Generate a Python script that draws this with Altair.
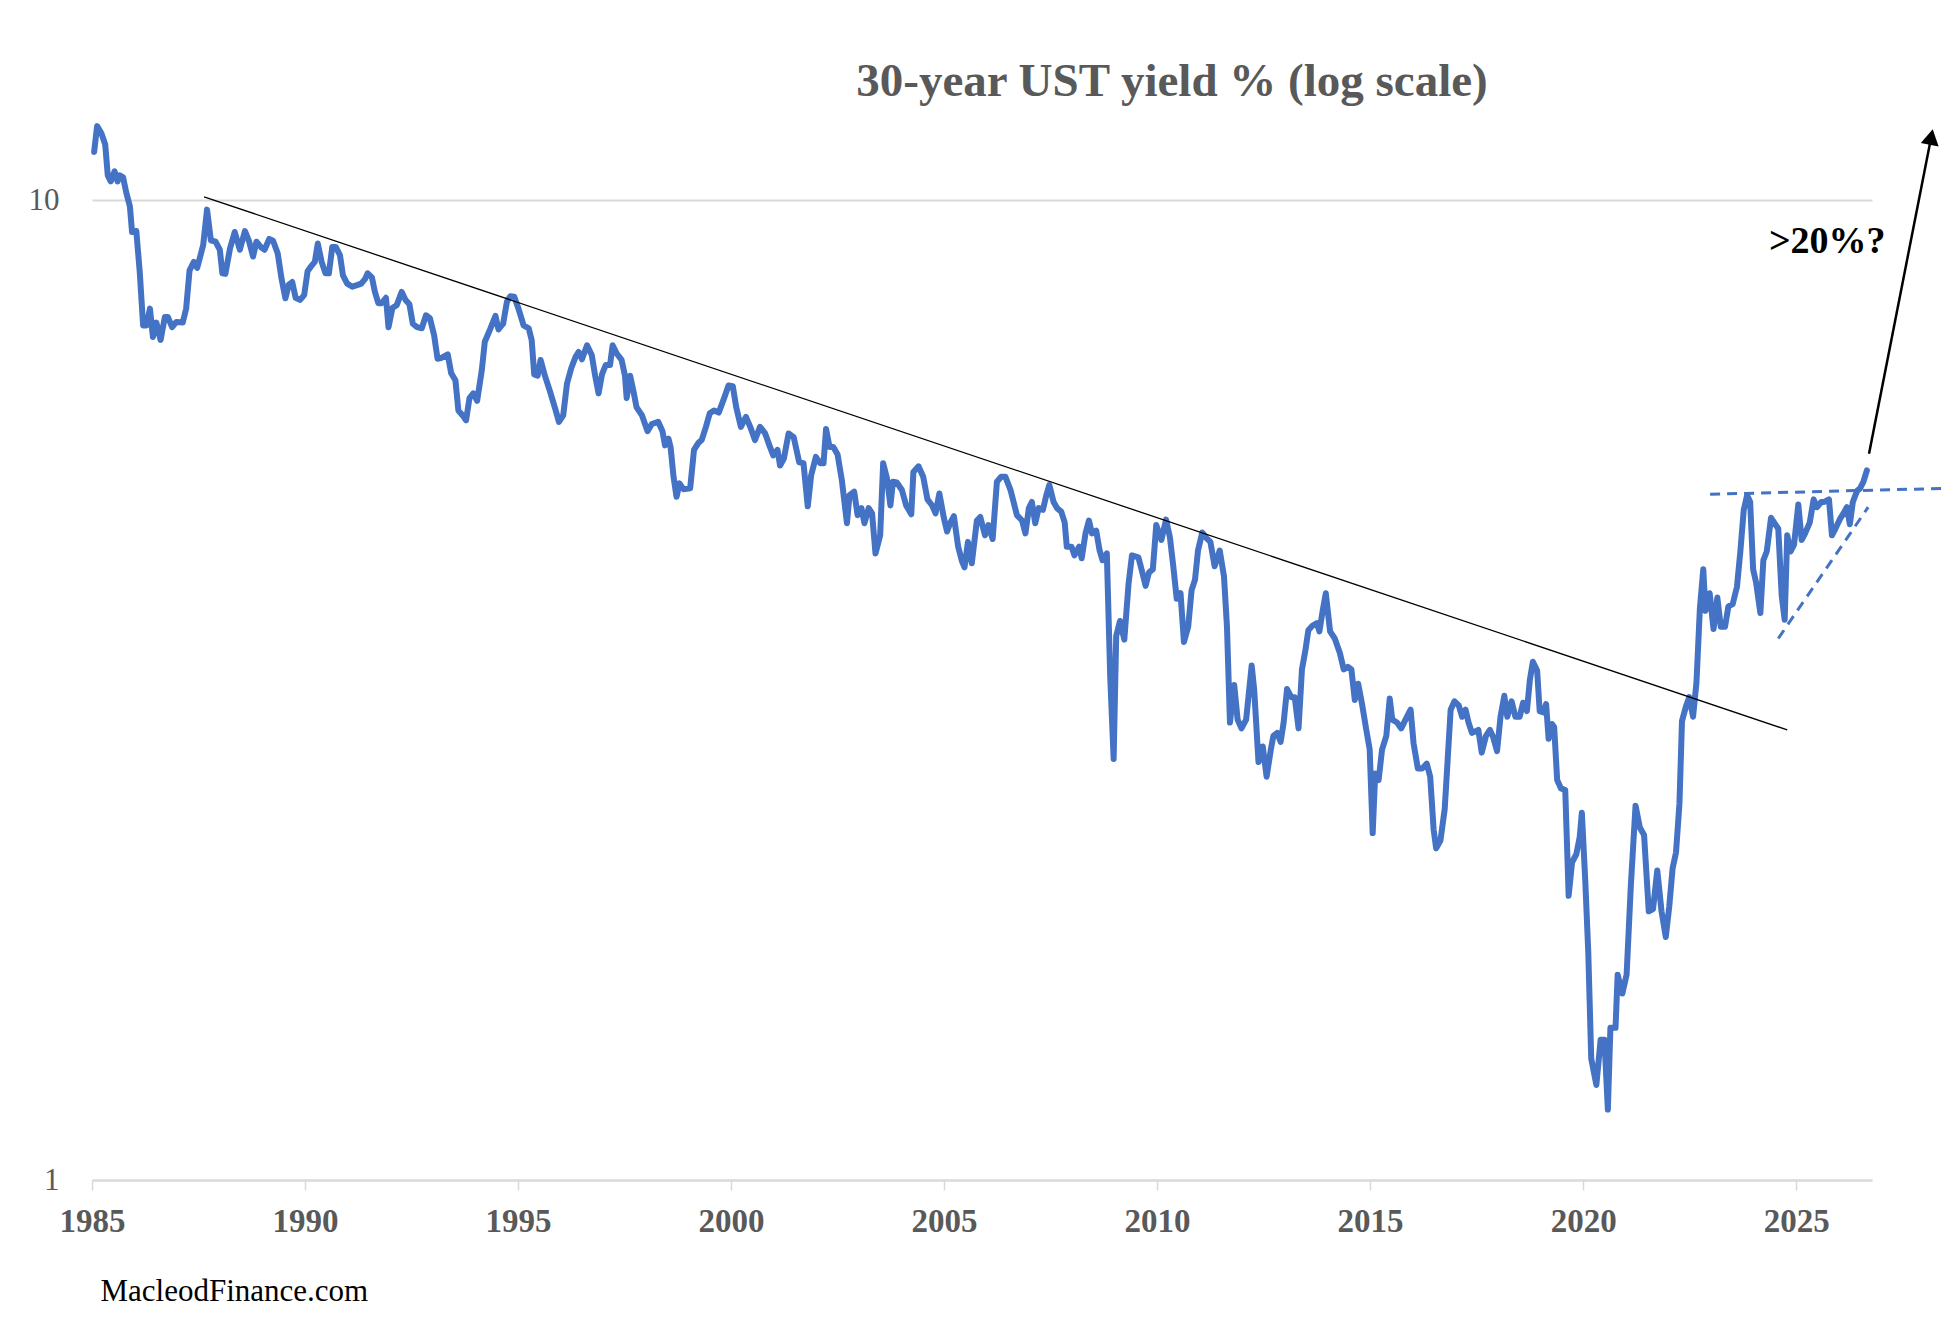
import altair as alt
import pandas as pd

# ---- data (decimal year on the axis, yield %) ----
years = [
    1985.05, 1985.12, 1985.22, 1985.31, 1985.37, 1985.44, 1985.53, 1985.60, 1985.65, 1985.73,
    1985.80, 1985.89, 1985.94, 1986.04, 1986.12, 1986.20, 1986.28, 1986.36, 1986.43, 1986.51,
    1986.61, 1986.71, 1986.78, 1986.88, 1986.98, 1987.13, 1987.21, 1987.29, 1987.39, 1987.47,
    1987.61, 1987.70, 1987.79, 1987.90, 1988.00, 1988.06, 1988.13, 1988.24, 1988.35, 1988.47,
    1988.59, 1988.69, 1988.78, 1988.86, 1988.98, 1989.05, 1989.16, 1989.25, 1989.36, 1989.45,
    1989.54, 1989.62, 1989.70, 1989.78, 1989.88, 1989.98, 1990.06, 1990.16, 1990.23, 1990.30,
    1990.39, 1990.48, 1990.56, 1990.64, 1990.72, 1990.82, 1990.89, 1990.99, 1991.11, 1991.22,
    1991.32, 1991.41, 1991.47, 1991.57, 1991.64, 1991.72, 1991.80, 1991.90, 1991.96, 1992.05,
    1992.15, 1992.27, 1992.36, 1992.45, 1992.53, 1992.63, 1992.74, 1992.84, 1992.93, 1993.03,
    1993.11, 1993.19, 1993.35, 1993.43, 1993.53, 1993.60, 1993.70, 1993.78, 1993.86, 1993.95,
    1994.04, 1994.15, 1994.22, 1994.32, 1994.47, 1994.54, 1994.65, 1994.74, 1994.82, 1994.91,
    1995.01, 1995.13, 1995.25, 1995.32, 1995.38, 1995.46, 1995.53, 1995.63, 1995.75, 1995.87,
    1995.96, 1996.06, 1996.15, 1996.25, 1996.35, 1996.42, 1996.50, 1996.62, 1996.73, 1996.81,
    1996.89, 1996.97, 1997.06, 1997.16, 1997.22, 1997.32, 1997.43, 1997.51, 1997.55, 1997.63,
    1997.71, 1997.78, 1997.91, 1998.04, 1998.14, 1998.29, 1998.39, 1998.45, 1998.53, 1998.58,
    1998.65, 1998.72, 1998.79, 1998.88, 1999.04, 1999.13, 1999.23, 1999.31, 1999.41, 1999.50,
    1999.60, 1999.71, 1999.82, 1999.94, 2000.04, 2000.12, 2000.23, 2000.35, 2000.45, 2000.56,
    2000.68, 2000.80, 2000.90, 2000.99, 2001.09, 2001.15, 2001.24, 2001.35, 2001.47, 2001.60,
    2001.70, 2001.80, 2001.88, 2001.99, 2002.09, 2002.17, 2002.23, 2002.31, 2002.40, 2002.50,
    2002.60, 2002.72, 2002.78, 2002.89, 2002.97, 2003.06, 2003.13, 2003.23, 2003.31, 2003.39,
    2003.50, 2003.57, 2003.66, 2003.74, 2003.80, 2003.89, 2004.01, 2004.11, 2004.23, 2004.28,
    2004.40, 2004.51, 2004.61, 2004.72, 2004.80, 2004.89, 2004.99, 2005.07, 2005.15, 2005.23,
    2005.33, 2005.42, 2005.48, 2005.56, 2005.65, 2005.77, 2005.85, 2005.96, 2006.04, 2006.14,
    2006.24, 2006.34, 2006.44, 2006.56, 2006.71, 2006.83, 2006.91, 2006.99, 2007.06, 2007.14,
    2007.22, 2007.32, 2007.40, 2007.47, 2007.57, 2007.65, 2007.75, 2007.83, 2007.88, 2007.99,
    2008.06, 2008.17, 2008.23, 2008.32, 2008.40, 2008.47, 2008.57, 2008.65, 2008.72, 2008.82,
    2008.90, 2008.98, 2009.04, 2009.13, 2009.23, 2009.33, 2009.41, 2009.56, 2009.64, 2009.73,
    2009.81, 2009.90, 2009.98, 2010.10, 2010.21, 2010.30, 2010.38, 2010.46, 2010.55, 2010.63,
    2010.73, 2010.81, 2010.89, 2010.96, 2011.06, 2011.16, 2011.25, 2011.35, 2011.47, 2011.57,
    2011.64, 2011.71, 2011.81, 2011.89, 2011.98, 2012.09, 2012.22, 2012.28, 2012.38, 2012.48,
    2012.57, 2012.67, 2012.73, 2012.82, 2012.90, 2012.97, 2013.05, 2013.15, 2013.23, 2013.32,
    2013.40, 2013.48, 2013.55, 2013.65, 2013.75, 2013.81, 2013.89, 2013.96, 2014.06, 2014.17,
    2014.29, 2014.38, 2014.48, 2014.56, 2014.64, 2014.72, 2014.81, 2014.91, 2014.99, 2015.06,
    2015.12, 2015.20, 2015.28, 2015.38, 2015.46, 2015.52, 2015.63, 2015.73, 2015.83, 2015.95,
    2016.02, 2016.12, 2016.22, 2016.33, 2016.41, 2016.49, 2016.55, 2016.65, 2016.75, 2016.81,
    2016.89, 2016.98, 2017.08, 2017.16, 2017.24, 2017.31, 2017.39, 2017.47, 2017.54, 2017.62,
    2017.72, 2017.81, 2017.89, 2017.98, 2018.06, 2018.15, 2018.22, 2018.32, 2018.41, 2018.51,
    2018.59, 2018.68, 2018.75, 2018.82, 2018.92, 2018.98, 2019.07, 2019.13, 2019.19, 2019.27,
    2019.32, 2019.39, 2019.48, 2019.58, 2019.66, 2019.74, 2019.84, 2019.92, 2019.97, 2020.05,
    2020.12, 2020.19, 2020.31, 2020.41, 2020.50, 2020.58, 2020.64, 2020.76, 2020.81, 2020.92,
    2021.02, 2021.12, 2021.23, 2021.33, 2021.43, 2021.54, 2021.64, 2021.74, 2021.84, 2021.94,
    2022.02, 2022.10, 2022.18, 2022.26, 2022.32, 2022.41, 2022.49, 2022.58, 2022.66, 2022.74,
    2022.82, 2022.87, 2022.97, 2023.06, 2023.15, 2023.23, 2023.33, 2023.41, 2023.51, 2023.61,
    2023.69, 2023.77, 2023.85, 2023.92, 2023.99, 2024.06, 2024.16, 2024.23, 2024.31, 2024.41,
    2024.48, 2024.58, 2024.66, 2024.73, 2024.79, 2024.87, 2024.95, 2025.05, 2025.13, 2025.21,
    2025.32, 2025.41, 2025.49, 2025.59, 2025.66, 2025.77, 2025.84, 2025.92, 2026.02, 2026.11,
    2026.19, 2026.26, 2026.33, 2026.43, 2026.50, 2026.58, 2026.66,
]
yields = [
    11.20, 11.90, 11.70, 11.40, 10.60, 10.45, 10.70, 10.45, 10.60, 10.55,
    10.20, 9.85, 9.28, 9.30, 8.45, 7.45, 7.45, 7.75, 7.25, 7.50,
    7.20, 7.60, 7.60, 7.42, 7.51, 7.50, 7.75, 8.48, 8.65, 8.53,
    9.00, 9.78, 9.10, 9.07, 8.90, 8.42, 8.41, 8.93, 9.28, 8.90,
    9.30, 9.07, 8.76, 9.07, 8.94, 8.90, 9.13, 9.09, 8.82, 8.31,
    7.94, 8.20, 8.25, 7.95, 7.91, 8.00, 8.46, 8.58, 8.65, 9.03,
    8.65, 8.42, 8.42, 8.96, 8.96, 8.79, 8.38, 8.22, 8.16, 8.19,
    8.22, 8.31, 8.42, 8.34, 8.06, 7.85, 7.85, 7.95, 7.42, 7.76,
    7.81, 8.06, 7.91, 7.83, 7.48, 7.42, 7.40, 7.63, 7.58, 7.28,
    6.89, 6.90, 6.96, 6.66, 6.55, 6.10, 6.03, 5.96, 6.28, 6.35,
    6.24, 6.71, 7.17, 7.34, 7.62, 7.38, 7.48, 7.88, 7.98, 7.97,
    7.75, 7.45, 7.40, 7.20, 6.64, 6.62, 6.87, 6.62, 6.38, 6.13,
    5.94, 6.03, 6.50, 6.74, 6.92, 7.00, 6.88, 7.11, 6.95, 6.62,
    6.35, 6.64, 6.79, 6.79, 7.11, 6.97, 6.87, 6.62, 6.28, 6.62,
    6.38, 6.15, 6.03, 5.81, 5.91, 5.94, 5.81, 5.62, 5.71, 5.60,
    5.22, 4.98, 5.14, 5.07, 5.08, 5.56, 5.65, 5.69, 5.87, 6.06,
    6.10, 6.07, 6.25, 6.47, 6.46, 6.15, 5.87, 6.01, 5.87, 5.69,
    5.87, 5.78, 5.62, 5.49, 5.56, 5.36, 5.45, 5.78, 5.73, 5.40,
    5.39, 4.87, 5.24, 5.47, 5.39, 5.39, 5.84, 5.60, 5.60, 5.50,
    5.18, 4.68, 5.00, 5.04, 4.77, 4.85, 4.68, 4.85, 4.79, 4.36,
    4.55, 5.39, 5.20, 4.88, 5.16, 5.15, 5.06, 4.88, 4.78, 5.28,
    5.35, 5.22, 4.95, 4.88, 4.79, 5.02, 4.75, 4.59, 4.69, 4.76,
    4.43, 4.28, 4.22, 4.48, 4.26, 4.71, 4.75, 4.55, 4.66, 4.51,
    5.16, 5.22, 5.22, 5.06, 4.77, 4.71, 4.57, 4.85, 4.92, 4.68,
    4.85, 4.83, 5.00, 5.12, 4.92, 4.85, 4.81, 4.69, 4.43, 4.43,
    4.34, 4.43, 4.31, 4.57, 4.71, 4.57, 4.60, 4.39, 4.29, 4.36,
    3.26, 2.69, 3.59, 3.72, 3.56, 4.06, 4.34, 4.32, 4.19, 4.04,
    4.17, 4.20, 4.66, 4.50, 4.72, 4.53, 4.23, 3.92, 3.97, 3.54,
    3.67, 4.00, 4.10, 4.39, 4.58, 4.52, 4.48, 4.23, 4.39, 4.13,
    3.67, 2.93, 3.20, 2.95, 2.89, 2.95, 3.35, 3.16, 2.67, 2.77,
    2.58, 2.75, 2.84, 2.86, 2.80, 2.93, 3.17, 3.11, 3.11, 2.89,
    3.32, 3.47, 3.64, 3.68, 3.70, 3.63, 3.82, 3.97, 3.63, 3.57,
    3.45, 3.32, 3.34, 3.32, 3.09, 3.21, 3.06, 2.88, 2.75, 2.26,
    2.60, 2.56, 2.75, 2.84, 3.10, 2.95, 2.93, 2.89, 2.95, 3.02,
    2.79, 2.63, 2.63, 2.66, 2.58, 2.28, 2.18, 2.22, 2.39, 2.64,
    3.02, 3.08, 3.05, 2.97, 3.02, 2.93, 2.86, 2.87, 2.88, 2.73,
    2.84, 2.88, 2.83, 2.74, 2.97, 3.12, 2.97, 3.08, 2.97, 2.97,
    3.07, 3.01, 3.24, 3.38, 3.31, 3.01, 3.00, 3.06, 2.82, 2.92,
    2.90, 2.56, 2.51, 2.50, 1.95, 2.11, 2.15, 2.24, 2.37, 2.02,
    1.71, 1.33, 1.25, 1.39, 1.39, 1.18, 1.43, 1.43, 1.62, 1.55,
    1.62, 2.00, 2.41, 2.29, 2.25, 1.88, 1.89, 2.07, 1.88, 1.77,
    1.90, 2.08, 2.16, 2.42, 2.94, 3.04, 3.11, 2.97, 3.22, 3.83,
    4.20, 3.81, 3.97, 3.65, 3.93, 3.67, 3.67, 3.85, 3.87, 4.03,
    4.38, 4.83, 5.00, 4.92, 4.20, 4.07, 3.79, 4.29, 4.38, 4.74,
    4.69, 4.62, 3.95, 3.73, 4.55, 4.38, 4.45, 4.89, 4.50, 4.57,
    4.69, 4.95, 4.86, 4.92, 4.92, 4.95, 4.55, 4.62, 4.72, 4.79,
    4.86, 4.67, 4.92, 5.05, 5.08, 5.16, 5.30,
]

tick_years = [1985, 1990, 1995, 2000, 2005, 2010, 2015, 2020, 2025]
y_ticks = [1, 10]

# annotation lines (data units)
trend_x = [1987.63, 2024.79]
trend_y = [10.08, 2.88]
flat_x = [2022.98, 2028.49]
flat_y = [5.01, 5.08]
rise_x = [2024.58, 2026.69]
rise_y = [3.57, 4.86]
arrow_x = [2026.71, 2028.17]
arrow_y = [5.51, 11.60]
head_x = [2028.17]
head_y = [11.60]
label_x = [2025.73]
label_y = [8.83]
label_text = [">20%?"]

TITLE = "30-year UST yield % (log scale)"
SOURCE = "MacleodFinance.com"
FONT = "Liberation Serif"
BLUE = "#4472C4"
GREY = "#595959"
LIGHT = "#d9d9d9"

xscale = alt.Scale(domain=[1985, 2026.78], nice=False, zero=False)
yscale = alt.Scale(type="log", domain=[1, 12.36], nice=False)

xaxis = alt.Axis(
    values=tick_years, format="d", grid=False,
    labelFont=FONT, labelFontSize=33, labelFontWeight="bold", labelColor=GREY,
    labelPadding=15, labelFlush=False, labelOverlap=False,
    tickColor=LIGHT, tickSize=10, tickWidth=1.5,
    domainColor=LIGHT, domainWidth=2,
    title=SOURCE, titleFont=FONT, titleFontSize=31, titleFontWeight="normal",
    titleColor="black", titleAnchor="start", titleAlign="left",
    titleX=8, titleY=120, titleBaseline="alphabetic",
)
yaxis = alt.Axis(
    values=y_ticks, format="d", grid=True, gridColor=LIGHT, gridWidth=2,
    ticks=False, domain=False,
    labelFont=FONT, labelFontSize=31, labelColor=GREY, labelPadding=33,
    title=None,
)

X = alt.X("x:Q", scale=xscale, axis=xaxis)
Y = alt.Y("y:Q", scale=yscale, axis=yaxis)

series = pd.DataFrame({"x": years, "y": yields, "o": list(range(len(years)))})
trend = pd.DataFrame({"x": trend_x, "y": trend_y})
flat = pd.DataFrame({"x": flat_x, "y": flat_y})
rise = pd.DataFrame({"x": rise_x, "y": rise_y})
arrow = pd.DataFrame({"x": arrow_x, "y": arrow_y})
head = pd.DataFrame({"x": head_x, "y": head_y})
label = pd.DataFrame({"x": label_x, "y": label_y, "t": label_text})

line = alt.Chart(series).mark_line(
    color=BLUE, strokeWidth=6, strokeJoin="round", strokeCap="round"
).encode(x=X, y=Y, order="o:Q")

trend_l = alt.Chart(trend).mark_line(color="black", strokeWidth=1.3).encode(x=X, y=Y)
flat_l = alt.Chart(flat).mark_line(color=BLUE, strokeWidth=3, strokeDash=[10, 7]).encode(x=X, y=Y)
rise_l = alt.Chart(rise).mark_line(color=BLUE, strokeWidth=3, strokeDash=[10, 7]).encode(x=X, y=Y)
arrow_l = alt.Chart(arrow).mark_line(color="black", strokeWidth=2.5).encode(x=X, y=Y)
head_m = alt.Chart(head).mark_point(
    shape="triangle-up", filled=True, color="black", size=330, angle=11, opacity=1
).encode(x=X, y=Y)
label_t = alt.Chart(label).mark_text(
    font=FONT, fontSize=38, fontWeight="bold", color="black",
    align="center", baseline="alphabetic"
).encode(x=X, y=Y, text="t:N")

chart = alt.layer(
    line, trend_l, flat_l, rise_l, arrow_l, head_m, label_t
).properties(
    width=1780,
    height=1070,
    title=alt.TitleParams(
        TITLE, font=FONT, fontSize=47, fontWeight="bold", color=GREY,
        anchor="middle", dx=190, offset=-33, baseline="alphabetic",
    ),
    padding={"left": 84, "top": 102, "right": 72, "bottom": 130},
    autosize=alt.AutoSizeParams(type="none"),
).configure_view(stroke=None)

chart.save("out.html", embed_options={"renderer": "svg", "actions": False})
